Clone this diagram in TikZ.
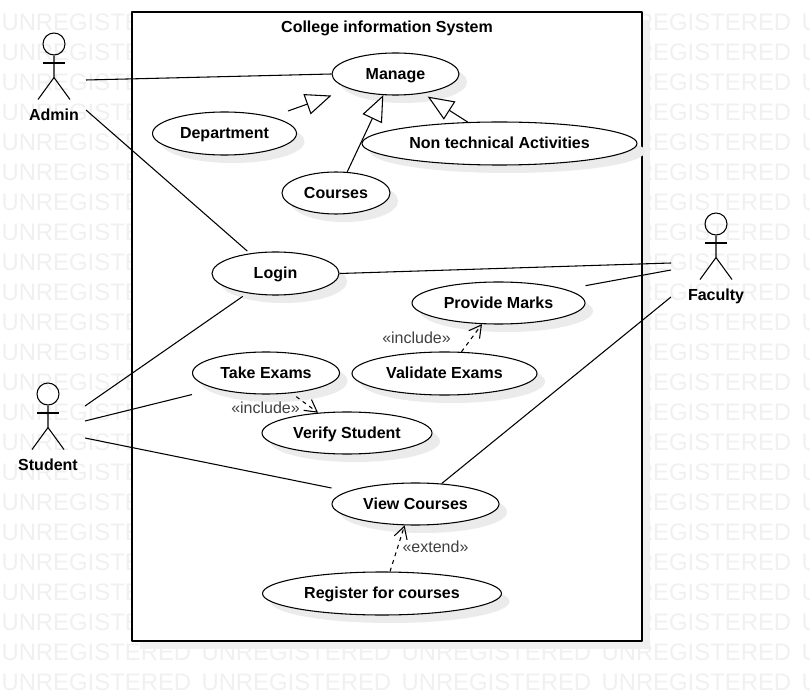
\documentclass[tikz,border=0pt]{standalone}
\usepackage{fontspec}
\setmainfont{Liberation Sans}
\usetikzlibrary{arrows.meta,shadows,shapes.geometric}
\begin{document}
\begin{tikzpicture}[x=.75pt, y=-.75pt, font=\fontsize{12}{14}\selectfont, line join=round, line width=.8pt,
	usecase/.style={draw, ellipse, fill=white, inner sep=0pt, text height=11pt, text depth=2.8pt, font=\fontsize{12}{14}\selectfont\bfseries, drop shadow={shadow xshift=6pt, shadow yshift=-6pt, fill=black!8, opacity=1}},
	actorlabel/.style={font=\fontsize{12}{14}\selectfont\bfseries, inner sep=0pt, text height=11pt, text depth=2.8pt},
	stereo/.style={text=black!75, inner sep=0pt},
	assoc/.style={draw},
	general/.style={draw, -{Triangle[open, fill=white, length=19.5pt, width=16pt]}},
	depend/.style={draw, dash pattern=on 3pt off 3pt, -{Straight Barb[length=9pt, width=10pt]}},
	wmark/.style={text=black!6, anchor=base west, inner sep=0pt, font=\fontsize{17.9}{20}\selectfont}]
	\useasboundingbox (0,0) rectangle (810,691);
	\clip (0,0) rectangle (810,691);
	% watermark
	\foreach \j in {0,...,22} \foreach \i in {0,...,4}
		\node[wmark] (wm-\i-\j) at (\i*200+1,30.5+\j*30) {UNREGISTERED};
	% system
	\node[draw, fill=white, inner sep=0pt, minimum width=382.5pt, minimum height=471.75pt, drop shadow={shadow xshift=6pt, shadow yshift=-6pt, fill=black!6, opacity=1}] (system) at (387,326.5) {};
	\node[actorlabel] (title) at (387,27.5) {College information System};
	% use cases
	\node[usecase, minimum width=95.25pt, minimum height=31.5pt] (manage) at (395.5,74) {Manage};
	\node[usecase, minimum width=108pt, minimum height=32.25pt] (department) at (224.5,133.5) {Department};
	\node[usecase, minimum width=81pt, minimum height=31.5pt] (courses) at (336,193) {Courses};
	\node[usecase, minimum width=206.25pt, minimum height=32.25pt] (nontech) at (499.5,143.5) {Non technical Activities};
	\node[usecase, minimum width=95.25pt, minimum height=32.25pt] (login) at (275.5,273.5) {Login};
	\node[usecase, minimum width=129.75pt, minimum height=31.5pt] (marks) at (498.5,303) {Provide Marks};
	\node[usecase, minimum width=110.25pt, minimum height=31.5pt] (exams) at (266,373) {Take Exams};
	\node[usecase, minimum width=138.75pt, minimum height=32.25pt] (validate) at (444.5,373.5) {Validate Exams};
	\node[usecase, minimum width=127.5pt, minimum height=31.5pt] (verify) at (347,433) {Verify Student};
	\node[usecase, minimum width=125.25pt, minimum height=31.5pt] (view) at (415.5,504) {View Courses};
	\node[usecase, minimum width=179.25pt, minimum height=32.25pt] (register) at (382,593.5) {Register for courses};
	% actors
	\foreach \name/\ax/\ay/\txt in {admin/54/44/Admin,student/48/394/Student,faculty/716/224/Faculty}{
		\node[draw, circle, inner sep=0pt, minimum size=16.5pt] (\name-head) at (\ax,\ay) {};
		\draw (\name-head.south) -- ++(0,22) ++(-16,22) -- ++(16,-22) -- ++(16,22);
		\draw (\ax-11,\ay+19) -- (\ax+11,\ay+19);
		\node[actorlabel] (\name) at (\ax,\ay+71) {\txt};
	}
	% free ends of the connectors
	\coordinate (adminA) at (86,80);
	\coordinate (adminB) at (86,110);
	\coordinate (studentA) at (85,406);
	\coordinate (studentB) at (85,421);
	\coordinate (studentC) at (85,438);
	\coordinate (facultyA) at (671,263);
	\coordinate (facultyB) at (671,270);
	\coordinate (facultyC) at (671,297);
	\coordinate (departmentOut) at (288,111);
	% associations
	\draw[assoc] (adminA) -- (manage.west);
	\draw[assoc] (adminB) -- ([yshift=2pt]login.145);
	\draw[assoc] (studentA) -- ([yshift=-3pt]login.210);
	\draw[assoc] (studentB) -- (exams.west |- exams.south);
	\draw[assoc] (studentC) -- ([yshift=12pt]view.west);
	\draw[assoc] (login.east) -- (facultyA);
	\draw[assoc] ([yshift=13pt]marks.east) -- (facultyB);
	\draw[assoc] (view.38) -- (facultyC);
	% generalizations
	\draw[general] (departmentOut) -- (manage.west |- manage.south);
	\draw[general] (courses.62) -- (manage.240);
	\draw[general] (nontech.146) -- ([yshift=-3pt]manage.330);
	% include, extend
	\draw[depend] (validate.52) -- (marks.232);
	\draw[depend] ([yshift=-3pt]exams.327) -- (verify.145);
	\draw[depend] (register.70) -- (view.243);
	\node[stereo] (inclA) at (416.5,338) {«include»};
	\node[stereo] (inclB) at (265.5,408) {«include»};
	\node[stereo] (ext) at (435.5,547) {«extend»};
\end{tikzpicture}
\end{document}
